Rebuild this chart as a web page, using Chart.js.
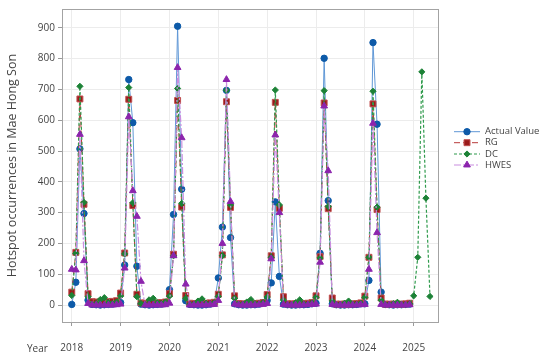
<!DOCTYPE html>
<html><head><meta charset="utf-8">
<script src="https://cdn.jsdelivr.net/npm/chart.js@4/dist/chart.umd.min.js"></script>
<style>html,body{margin:0;padding:0;background:#fff}#wrap{width:542px;height:357px;position:relative}</style>
</head><body><div id="wrap"><canvas id="c" width="542" height="357"></canvas></div>
<script>
// ---- data ----
const yearTicks = ['2018','2019','2020','2021','2022','2023','2024','2025'];
const seriesNames = ['Actual Value','RG','DC','HWES'];
// monthly categories Jan 2018 .. May 2025
const months = [];
for (let y = 2018; y <= 2025; y++) for (let m = 1; m <= 12; m++) { if (y === 2025 && m > 5) break; months.push(y + '-' + String(m).padStart(2,'0')); }

const actual = [
  2, 74, 507, 297, 16, 2, 1, 0, 1, 2, 3, 5,
  8, 130, 732, 592, 126, 3, 1, 0, 1, 2, 3, 5,
  50, 294, 905, 376, 14, 2, 1, 0, 0, 1, 3, 6,
  88, 253, 697, 219, 4, 1, 0, 0, 1, 1, 3, 8,
  15, 72, 335, 93, 3, 1, 0, 0, 1, 1, 2, 4,
  6, 168, 801, 339, 4, 1, 0, 0, 1, 1, 2, 4,
  4, 80, 852, 587, 42, 2, 1, 0, 1, 1, 2, 3
];
const rg = [
  42, 171, 669, 327, 37, 11, 10, 10, 10, 11, 12, 14,
  39, 169, 668, 323, 35, 7, 6, 6, 6, 7, 8, 10,
  37, 165, 664, 318, 31, 6, 5, 5, 5, 6, 7, 9,
  35, 163, 660, 317, 30, 5, 4, 4, 4, 5, 6, 8,
  34, 160, 658, 314, 27, 4, 4, 4, 4, 5, 6, 8,
  30, 157, 656, 313, 23, 3, 3, 3, 3, 4, 5, 7,
  29, 155, 653, 310, 23, 3, 3, 3, 3, 3, 4, 6
];
const dc = [
  31, 168, 710, 333, 27, 3, 5, 18, 24, 8, 5, 10,
  29, 166, 706, 332, 27, 5, 3, 17, 22, 8, 5, 10,
  29, 160, 703, 330, 22, 3, 3, 13, 20, 6, 4, 8,
  28, 160, 697, 325, 22, 3, 3, 10, 18, 5, 4, 8,
  26, 155, 698, 325, 16, 2, 2, 8, 17, 4, 3, 7,
  25, 153, 696, 320, 13, 2, 2, 6, 13, 3, 3, 6,
  25, 155, 694, 318, 16, 2, 2, 5, 9, 3, 2, 4,
  30, 155, 757, 347, 28
];
const hwes = [
  116, 114, 554, 144, 5, 0, 0, 0, 0, 0, 0, 1,
  3, 120, 611, 371, 288, 77, 0, 0, 0, 0, 0, 1,
  6, 160, 771, 543, 68, 0, 0, 0, 0, 0, 1, 2,
  15, 200, 732, 336, 3, 0, 0, 0, 0, 0, 1, 2,
  5, 150, 552, 300, 2, 0, 0, 0, 0, 0, 1, 2,
  3, 139, 646, 436, 2, 0, 0, 0, 0, 0, 0, 1,
  2, 116, 590, 235, 2, 0, 0, 0, 0, 0, 0, 1
];

// decimal-year position of each month category
const monthPos = months.map(s => { const [y, m] = s.split('-').map(Number); return y + (m - 1) / 12; });
const toPts = arr => arr.map((v, i) => ({x: monthPos[i], y: v}));

const FONT = "'Open Sans', 'Noto Sans', sans-serif";
Chart.defaults.font.family = FONT;

function marker(ctx, style, r, x, y, fill, stroke) {
  ctx.save();
  ctx.fillStyle = fill; ctx.strokeStyle = stroke; ctx.lineWidth = 1; ctx.setLineDash([]);
  ctx.beginPath();
  if (style === 'circle') ctx.arc(x, y, r, 0, Math.PI * 2);
  else if (style === 'rect') { const s = Math.SQRT1_2 * r; ctx.rect(x - s, y - s, 2 * s, 2 * s); }
  else if (style === 'rectRot') { ctx.moveTo(x - r, y); ctx.lineTo(x, y - r); ctx.lineTo(x + r, y); ctx.lineTo(x, y + r); ctx.closePath(); }
  else if (style === 'triangle') { ctx.moveTo(x, y - r); ctx.lineTo(x + r * 0.866, y + r * 0.5); ctx.lineTo(x - r * 0.866, y + r * 0.5); ctx.closePath(); }
  ctx.fill(); ctx.stroke();
  ctx.restore();
}

const framePlugin = {
  id: 'frame',
  beforeDatasetsDraw(chart) {
    const {ctx, chartArea: a} = chart;
    ctx.save(); ctx.strokeStyle = '#a3a3a3'; ctx.lineWidth = 1;
    ctx.strokeRect(Math.round(a.left) + 0.5, Math.round(a.top) + 0.5, Math.round(a.right - a.left) - 1, Math.round(a.bottom - a.top));
    ctx.restore();
  },
  afterDraw(chart) {
    const ctx = chart.ctx;
    ctx.save();
    ctx.font = '10px ' + FONT; ctx.fillStyle = '#444'; ctx.textAlign = 'left'; ctx.textBaseline = 'middle';
    ctx.fillText('Year', 27, 349);
    // legend
    const ys = [131.7, 142.7, 154, 165];
    chart.data.datasets.forEach((ds, i) => {
      const y = ys[i];
      ctx.save();
      ctx.strokeStyle = ds.borderColor; ctx.lineWidth = ds.borderWidth;
      ctx.setLineDash(ds.borderDash || []);
      ctx.beginPath(); ctx.moveTo(454, y); ctx.lineTo(480, y); ctx.stroke();
      ctx.restore();
      marker(ctx, ds.pointStyle, ds.pointRadius, 467, y, ds.pointBackgroundColor, ds.pointBorderColor);
      ctx.fillStyle = '#444'; ctx.font = '9.5px ' + FONT; ctx.textAlign = 'left'; ctx.textBaseline = 'middle';
      ctx.fillText(ds.label, 485, y);
    });
    ctx.restore();
  }
};

new Chart(document.getElementById('c'), {
  type: 'line',
  data: {
    datasets: [
      {label: seriesNames[0], data: toPts(actual), borderColor: '#5f97d6', borderWidth: 1, pointStyle: 'circle', pointRadius: 3.2,
       pointBackgroundColor: '#0d5aa8', pointBorderColor: '#0d5aa8', pointBorderWidth: 1, order: 4, tension: 0},
      {label: seriesNames[1], data: toPts(rg), borderColor: '#b83a3a', borderWidth: 1, borderDash: [6, 3], pointStyle: 'rect', pointRadius: 4.2,
       pointBackgroundColor: '#9a1b1b', pointBorderColor: '#c05050', pointBorderWidth: 1, order: 3, tension: 0},
      {label: seriesNames[2], data: toPts(dc), borderColor: '#2f9a4c', borderWidth: 1.2, borderDash: [3, 2], pointStyle: 'rectRot', pointRadius: 3.1,
       pointBackgroundColor: '#1c8236', pointBorderColor: '#1c8236', pointBorderWidth: 1, order: 2, tension: 0},
      {label: seriesNames[3], data: toPts(hwes), borderColor: '#c98ee0', borderWidth: 1.2, borderDash: [7, 2, 2, 2], pointStyle: 'triangle', pointRadius: 3.9,
       pointBackgroundColor: '#8c24ad', pointBorderColor: '#8c24ad', pointBorderWidth: 1, order: 1, tension: 0}
    ]
  },
  options: {
    responsive: false, animation: false, devicePixelRatio: 1,
    layout: {padding: {top: 5, right: 103, left: 0, bottom: 0}},
    plugins: {legend: {display: false}, tooltip: {enabled: false}},
    scales: {
      x: {
        type: 'linear', min: 2017.8, max: 2025.518,
        afterBuildTicks: s => { s.ticks = yearTicks.map(v => ({value: Number(v)})); },
        afterFit: s => { s.height = 35; },
        ticks: {callback: v => String(v), font: {size: 10}, color: '#444', padding: 16, maxRotation: 0, autoSkip: false},
        grid: {color: '#ececec', tickColor: '#9a9a9a', tickLength: 4, drawOnChartArea: true},
        border: {display: false}
      },
      y: {
        min: -55, max: 961,
        afterBuildTicks: s => { const t = []; for (let v = 0; v <= 900; v += 100) t.push({value: v}); s.ticks = t; },
        afterFit: s => { s.width = 62; },
        ticks: {font: {size: 10}, color: '#444', padding: 3},
        grid: {color: '#ececec', tickColor: '#9a9a9a', tickLength: 4},
        border: {display: false},
        title: {display: true, text: 'Hotspot occurrences in Mae Hong Son', font: {size: 12.5}, color: '#444', padding: {top: 5, bottom: 0}}
      }
    }
  },
  plugins: [framePlugin]
});
</script>
</body></html>
